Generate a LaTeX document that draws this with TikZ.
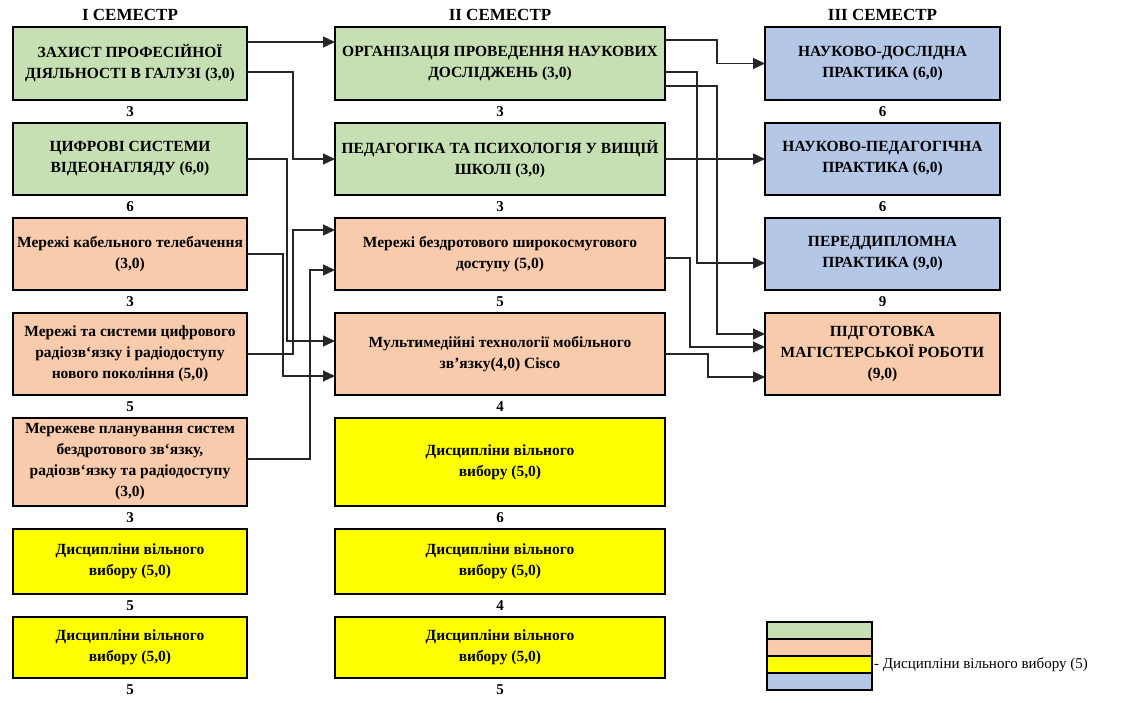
\documentclass[tikz,border=0pt]{standalone}
\usepackage{fontspec}
\setmainfont{Liberation Serif}
\usepackage{tikz}
\usetikzlibrary{arrows.meta,positioning}
\definecolor{smgreen}{RGB}{198,224,180}
\definecolor{smorange}{RGB}{248,203,173}
\definecolor{smyellow}{RGB}{255,255,0}
\definecolor{smblue}{RGB}{180,199,231}
\tikzstyle{arrow} = [line width=1.2pt,->,>={Triangle[length=12pt,width=11pt]},color=black!85]
\tikzstyle{blocknode} = [rectangle, draw=black, line width=1.8pt, align=center, inner sep=1pt, outer sep=0pt, font=\fontsize{15.5}{21}\selectfont\bfseries]
\tikzstyle{numnode} = [inner sep=0pt, font=\fontsize{15}{16}\selectfont\bfseries]
\tikzstyle{semnode} = [inner sep=0pt, font=\fontsize{17}{18}\selectfont\bfseries]
\tikzstyle{legnode} = [rectangle, draw=black, line width=1.2pt, minimum width=105pt, minimum height=17pt, inner sep=0pt, outer sep=0pt]

\begin{document}
\begin{tikzpicture}[x=1pt, y=-1pt, node distance=23pt]
\useasboundingbox (0,0) rectangle (1129,702);

% I семестр
\node[blocknode, minimum width=234pt, minimum height=73pt, fill=smgreen] (a1) at (130,63.5) {ЗАХИСТ ПРОФЕСІЙНОЇ\\ДІЯЛЬНОСТІ В ГАЛУЗІ (3,0)};
\node[blocknode, minimum width=234pt, minimum height=72pt, fill=smgreen, below=of a1] (a2) {ЦИФРОВІ СИСТЕМИ\\ВІДЕОНАГЛЯДУ (6,0)};
\node[blocknode, minimum width=234pt, minimum height=72pt, fill=smorange, below=of a2] (a3) {Мережі кабельного телебачення\\(3,0)};
\node[blocknode, minimum width=234pt, minimum height=82pt, fill=smorange, below=of a3] (a4) {Мережі та системи цифрового\\радіозв`язку і радіодоступу\\нового покоління (5,0)};
\node[blocknode, minimum width=234pt, minimum height=88pt, fill=smorange, below=of a4] (a5) {Мережеве планування систем\\бездротового зв`язку,\\радіозв`язку та радіодоступу\\(3,0)};
\node[blocknode, minimum width=234pt, minimum height=65pt, fill=smyellow, below=of a5] (a6) {Дисципліни вільного\\вибору (5,0)};
\node[blocknode, minimum width=234pt, minimum height=61pt, fill=smyellow, below=of a6] (a7) {Дисципліни вільного\\вибору (5,0)};

% II семестр
\node[blocknode, minimum width=330pt, minimum height=73pt, fill=smgreen, right=88pt of a1] (b1) {ОРГАНІЗАЦІЯ ПРОВЕДЕННЯ НАУКОВИХ\\ДОСЛІДЖЕНЬ (3,0)};
\node[blocknode, minimum width=330pt, minimum height=72pt, fill=smgreen, right=88pt of a2] (b2) {ПЕДАГОГІКА ТА ПСИХОЛОГІЯ У ВИЩІЙ\\ШКОЛІ (3,0)};
\node[blocknode, minimum width=330pt, minimum height=72pt, fill=smorange, right=88pt of a3] (b3) {Мережі бездротового широкосмугового\\доступу (5,0)};
\node[blocknode, minimum width=330pt, minimum height=82pt, fill=smorange, right=88pt of a4] (b4) {Мультимедійні технології мобільного\\зв'язку(4,0) Cisco};
\node[blocknode, minimum width=330pt, minimum height=88pt, fill=smyellow, right=88pt of a5] (b5) {Дисципліни вільного\\вибору (5,0)};
\node[blocknode, minimum width=330pt, minimum height=65pt, fill=smyellow, right=88pt of a6] (b6) {Дисципліни вільного\\вибору (5,0)};
\node[blocknode, minimum width=330pt, minimum height=61pt, fill=smyellow, right=88pt of a7] (b7) {Дисципліни вільного\\вибору (5,0)};

% III семестр
\node[blocknode, minimum width=235pt, minimum height=73pt, fill=smblue, right=100pt of b1] (c1) {НАУКОВО-ДОСЛІДНА\\ПРАКТИКА (6,0)};
\node[blocknode, minimum width=235pt, minimum height=72pt, fill=smblue, right=100pt of b2] (c2) {НАУКОВО-ПЕДАГОГІЧНА\\ПРАКТИКА (6,0)};
\node[blocknode, minimum width=235pt, minimum height=72pt, fill=smblue, right=100pt of b3] (c3) {ПЕРЕДДИПЛОМНА\\ПРАКТИКА (9,0)};
\node[blocknode, minimum width=235pt, minimum height=82pt, fill=smorange, right=100pt of b4] (c4) {ПІДГОТОВКА\\МАГІСТЕРСЬКОЇ РОБОТИ\\(9,0)};

% headers
\node[semnode, above=6pt of a1] (s1) {I СЕМЕСТР};
\node[semnode, above=6pt of b1] (s2) {II СЕМЕСТР};
\node[semnode, above=6pt of c1] (s3) {III СЕМЕСТР};

% credits under the boxes
\node[numnode, below=6pt of a1] (na1) {3};
\node[numnode, below=6pt of a2] (na2) {6};
\node[numnode, below=6pt of a3] (na3) {3};
\node[numnode, below=6pt of a4] (na4) {5};
\node[numnode, below=6pt of a5] (na5) {3};
\node[numnode, below=6pt of a6] (na6) {5};
\node[numnode, below=6pt of a7] (na7) {5};
\node[numnode, below=6pt of b1] (nb1) {3};
\node[numnode, below=6pt of b2] (nb2) {3};
\node[numnode, below=6pt of b3] (nb3) {5};
\node[numnode, below=6pt of b4] (nb4) {4};
\node[numnode, below=6pt of b5] (nb5) {6};
\node[numnode, below=6pt of b6] (nb6) {4};
\node[numnode, below=6pt of b7] (nb7) {5};
\node[numnode, below=6pt of c1] (nc1) {6};
\node[numnode, below=6pt of c2] (nc2) {6};
\node[numnode, below=6pt of c3] (nc3) {9};

% I -> II
\draw[arrow] ([yshift=-15pt]a1.north east) -- ([yshift=-15pt]b1.north west);
\draw[arrow] ([yshift=-45pt]a1.north east) -- ++(46,0) |- (b2.west);
\draw[arrow] (a2.east) -- ++(40,0) |- ([yshift=-28pt]b4.north west);
\draw[arrow] (a3.east) -- ++(36,0) |- ([yshift=-63pt]b4.north west);
\draw[arrow] (a4.east) -- ++(46,0) |- ([yshift=-12pt]b3.north west);
\draw[arrow] ([yshift=-41pt]a5.north east) -- ++(63,0) |- ([yshift=-52pt]b3.north west);

% II -> III
\draw[arrow] ([yshift=-13pt]b1.north east) -- ++(52,0) |- (c1.west);
\draw[arrow] ([yshift=-45pt]b1.north east) -- ++(32,0) |- ([yshift=-45pt]c3.north west);
\draw[arrow] ([yshift=-59pt]b1.north east) -- ++(52,0) |- ([yshift=-21pt]c4.north west);
\draw[arrow] (b2.east) -- (c2.west);
\draw[arrow] ([yshift=-40pt]b3.north east) -- ++(25,0) |- ([yshift=-34pt]c4.north west);
\draw[arrow] (b4.east) -- ++(43,0) |- ([yshift=-64pt]c4.north west);

% legend
\node[legnode, fill=smgreen] (lg1) at (819.5,630.5) {};
\node[legnode, fill=smorange, below=0pt of lg1] (lg2) {};
\node[legnode, fill=smyellow, below=0pt of lg2] (lg3) {};
\node[legnode, fill=smblue, below=0pt of lg3] (lg4) {};
\node[inner sep=0pt, right=2pt of lg3, font=\fontsize{15}{17}\selectfont] (lgtext) {- Дисципліни вільного вибору (5)};
\end{tikzpicture}
\end{document}
